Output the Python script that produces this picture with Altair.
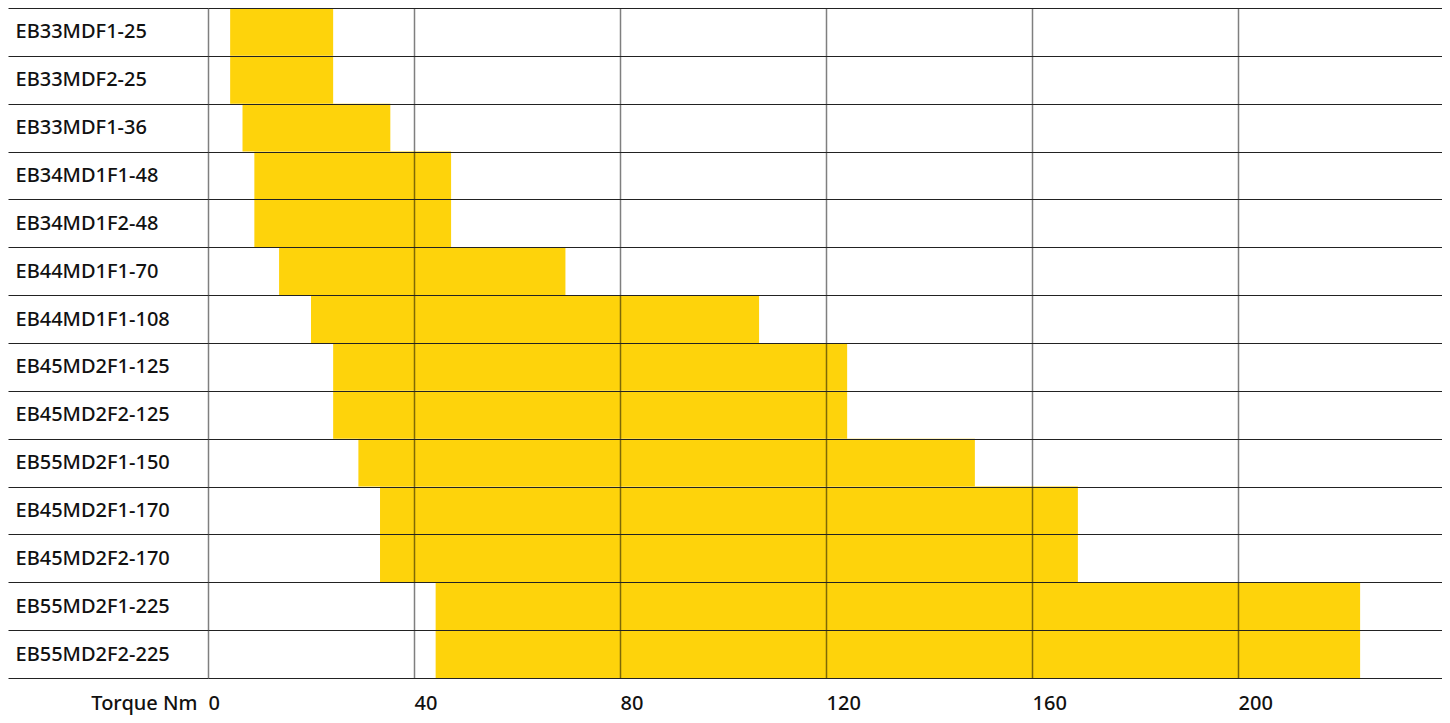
import altair as alt
import pandas as pd

models = ["EB33MDF1-25", "EB33MDF2-25", "EB33MDF1-36", "EB34MD1F1-48", "EB34MD1F2-48",
          "EB44MD1F1-70", "EB44MD1F1-108", "EB45MD2F1-125", "EB45MD2F2-125",
          "EB55MD2F1-150", "EB45MD2F1-170", "EB45MD2F2-170", "EB55MD2F1-225", "EB55MD2F2-225"]
torque_min = [4.3, 4.3, 6.7, 9.0, 9.0, 13.8, 20.0, 24.3, 24.3, 29.2, 33.4, 33.4, 44.2, 44.2]
torque_max = [24.3, 24.3, 35.4, 47.2, 47.2, 69.4, 107.0, 124.1, 124.1, 148.9, 168.9, 168.9, 223.7, 223.7]
x_ticks = [0, 40, 80, 120, 160, 200]

df = pd.DataFrame({"model": models, "tmin": torque_min, "tmax": torque_max})

FONT = "Noto Sans"
FS = 20
FW = 500

chart = alt.Chart(df).mark_bar(color="#FED30B").encode(
    y=alt.Y("model:N", sort=models,
            scale=alt.Scale(paddingInner=0, paddingOuter=0),
            axis=alt.Axis(title=None, tickBand="extent", tickSize=200, tickColor="#222222",
                          tickWidth=1, grid=True, gridColor="#222222", gridWidth=1,
                          domain=False, labelAlign="left", labelPadding=-7,
                          labelBaseline="middle", labelFont=FONT, labelFontSize=FS,
                          labelFontWeight=FW, labelColor="#111111", labelLimit=0, zindex=1)),
    x=alt.X("tmin:Q", scale=alt.Scale(domain=[0, 239.6], nice=False, zero=False),
            axis=alt.Axis(title="Torque Nm", values=x_ticks, grid=True, gridColor="#000000",
                          gridOpacity=0.5, gridWidth=1.5, ticks=False, domain=False,
                          labelAlign="left", labelFlush=False, labelBaseline="alphabetic",
                          labelPadding=31, labelFont=FONT, labelFontSize=FS,
                          labelFontWeight=FW, labelColor="#111111",
                          titleX=-11, titleY=31, titleAlign="right",
                          titleBaseline="alphabetic", titleFont=FONT, titleFontSize=FS,
                          titleFontWeight=FW, titleColor="#111111", zindex=1)),
    x2="tmax:Q",
).properties(
    width=1234, height=670,
    autosize=alt.AutoSizeParams(type="none"),
    padding={"left": 200, "top": 0, "right": 0, "bottom": 37},
).configure_view(stroke=None)

chart.save("out.html", embed_options={"renderer": "svg", "actions": False})
